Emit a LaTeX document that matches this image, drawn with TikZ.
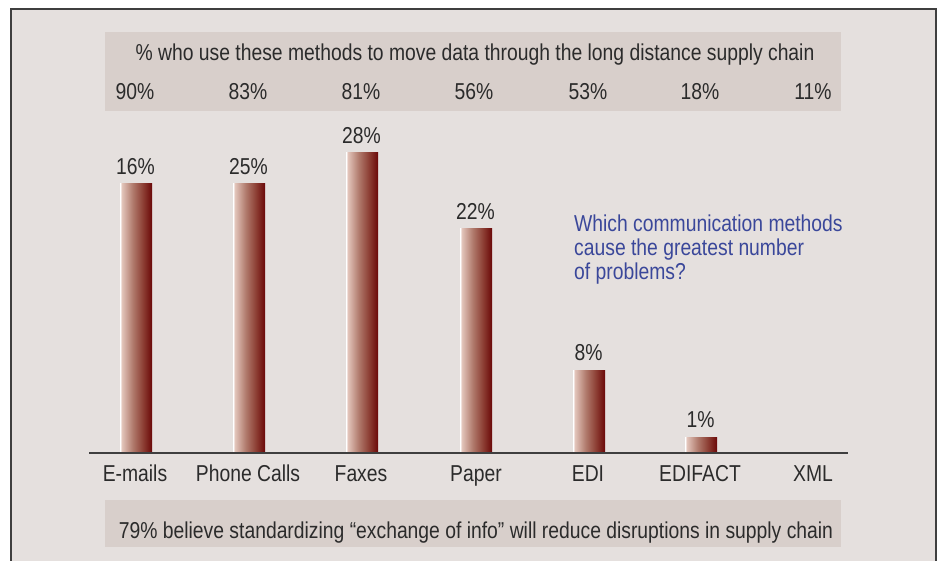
\documentclass[tikz,border=0pt]{standalone}
\usepackage{fontspec}
\setmainfont[FakeStretch=0.84]{Liberation Sans}
\definecolor{bgc}{HTML}{E5E0DE}
\definecolor{bandc}{HTML}{D8CFCB}
\definecolor{framec}{HTML}{3F3F3F}
\definecolor{txtc}{HTML}{2B2B2B}
\definecolor{qc}{HTML}{3A479A}
\definecolor{barA}{HTML}{E2C4BA}
\definecolor{barB}{HTML}{B07A6C}
\definecolor{barC}{HTML}{8A3A30}
\definecolor{barD}{HTML}{6A0808}
\pgfdeclarehorizontalshading{barshade}{100bp}{color(0bp)=(white); color(25bp)=(white); color(28bp)=(barA); color(45bp)=(barB); color(62bp)=(barC); color(75bp)=(barD); color(100bp)=(barD)}
\tikzset{
  lbl/.style={font=\fontsize{23}{26}\selectfont, text=txtc, inner sep=0pt, anchor=base},
  qtext/.style={font=\fontsize{23}{23.7}\selectfont, text=qc, inner sep=0pt, align=left, anchor=base west},
  band/.style={fill=bandc, draw=none},
  bar/.style={shading=barshade, draw=none},
}
\begin{document}
\begin{tikzpicture}[x=1pt,y=-1pt]
\useasboundingbox (0,0) rectangle (940,561);
\fill[white] (0,0) rectangle (940,561);
\fill[bgc] (11,9) rectangle (936,561);
\draw[framec, line width=1.8pt] (11,561) -- (11,9) -- (936,9) -- (936,561);
% top band
\fill[band] (105,32) rectangle (841,111);
\node[lbl] (title) at (475,61) {\% who use these methods to move data through the long distance supply chain};
% bottom band
\fill[band] (105,500) rectangle (841,547);
\node[lbl] (foot) at (476,538) {79\% believe standardizing “exchange of info” will reduce disruptions in supply chain};
% usage percentages
\foreach \x/\t [count=\i] in {135/90,248/83,361/81,474/56,588/53,700/18,813/11}
  \node[lbl] (u\i) at (\x,99.3) {\t\%};
% bars
\foreach \x/\top/\t [count=\i] in {136/184/16,249/184/25,362/153/28,476/229/22,589/370/8,701/437/1}{
  \shade[bar] (\x-16,\top) rectangle (\x+16,452.5);
  \node[lbl] (p\i) at (\x-0.5,\top-9.5) {\t\%};
}
% axis
\draw[framec, line width=1.8pt] (89,453) -- (848,453);
% category labels
\foreach \x/\t [count=\i] in {135/E-mails,248/Phone Calls,361/Faxes,476/Paper,588/EDI,700/EDIFACT,813/XML}
  \node[lbl] (c\i) at (\x,481.7) {\t};
% question
\node[qtext] (q) at (574,279.3) {Which communication methods\\cause the greatest number\\of problems?};
\end{tikzpicture}
\end{document}
